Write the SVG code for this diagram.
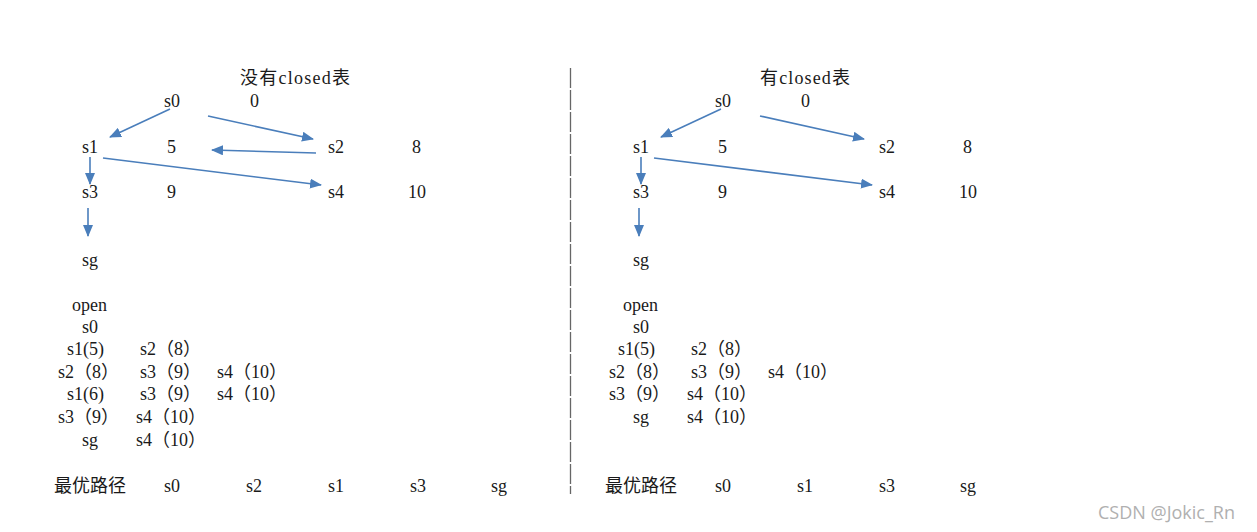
<svg xmlns="http://www.w3.org/2000/svg" width="1257" height="532" viewBox="0 0 1257 532">
<style>
text{font-family:"Liberation Serif","Noto Sans CJK SC",serif;font-size:18px;fill:#1a1a1a}
.wm{font-family:"Open Sans","Noto Sans",sans-serif;font-size:18px;fill:#b0b0b0}
.c{stroke:#4a7ebb;stroke-width:1.6;fill:none;marker-end:url(#ah)}
</style>
<defs>
<marker id="ah" viewBox="0 0 12 10" refX="11" refY="5" markerWidth="12" markerHeight="10" markerUnits="userSpaceOnUse" orient="auto"><path d="M0,0 L12,5 L0,10 z" fill="#4a7ebb"/></marker>
</defs>
<rect width="1257" height="532" fill="#fff"/>
<g id="connectors">
<line class="c" x1="170" y1="109" x2="110" y2="137"/>
<line class="c" x1="208" y1="116" x2="313" y2="139"/>
<line class="c" x1="316" y1="153" x2="212" y2="150"/>
<line class="c" x1="103" y1="158" x2="321" y2="185"/>
<line class="c" x1="90" y1="157" x2="90" y2="184"/>
<line class="c" x1="88" y1="208" x2="88" y2="236"/>
<line class="c" x1="721" y1="109" x2="661" y2="137"/>
<line class="c" x1="760" y1="116" x2="864" y2="139"/>
<line class="c" x1="654" y1="158" x2="872" y2="185"/>
<line class="c" x1="641" y1="157" x2="641" y2="184"/>
<line class="c" x1="639" y1="208" x2="639" y2="236"/>
</g>
<g id="divider"><line x1="570.5" y1="68" x2="570.5" y2="494" stroke="#666" stroke-width="1.3" stroke-dasharray="20 2"/></g>
<g id="left">
<text x="240" y="84" textLength="110" lengthAdjust="spacing">没有closed表</text>
<g id="l-s0"><text x="164" y="107">s0</text><text x="250" y="107">0</text></g>
<g id="l-s1"><text x="82" y="153">s1</text><text x="167" y="153">5</text></g>
<g id="l-s2"><text x="328" y="153">s2</text><text x="412" y="153">8</text></g>
<g id="l-s3"><text x="82" y="198">s3</text><text x="167" y="198">9</text></g>
<g id="l-s4"><text x="328" y="198">s4</text><text x="408" y="198">10</text></g>
<g id="l-sg"><text x="82" y="266">sg</text></g>
<g id="l-open">
<text x="72" y="311">open</text>
<text x="82" y="333">s0</text>
<text x="67" y="355">s1(5)</text><text x="140" y="355">s2（8）</text>
<text x="58" y="378">s2（8）</text><text x="140" y="378">s3（9）</text><text x="217" y="378">s4（10）</text>
<text x="67" y="400">s1(6)</text><text x="140" y="400">s3（9）</text><text x="217" y="400">s4（10）</text>
<text x="58" y="423">s3（9）</text><text x="136" y="423">s4（10）</text>
<text x="82" y="446">sg</text><text x="136" y="446">s4（10）</text>
</g>
<g id="l-path">
<text x="54" y="492">最优路径</text><text x="164" y="492">s0</text><text x="246" y="492">s2</text><text x="328" y="492">s1</text><text x="410" y="492">s3</text><text x="491" y="492">sg</text>
</g>
</g>
<g id="right">
<text x="760" y="84" textLength="90" lengthAdjust="spacing">有closed表</text>
<g id="r-s0"><text x="715" y="107">s0</text><text x="801" y="107">0</text></g>
<g id="r-s1"><text x="633" y="153">s1</text><text x="718" y="153">5</text></g>
<g id="r-s2"><text x="879" y="153">s2</text><text x="963" y="153">8</text></g>
<g id="r-s3"><text x="633" y="198">s3</text><text x="718" y="198">9</text></g>
<g id="r-s4"><text x="879" y="198">s4</text><text x="959" y="198">10</text></g>
<g id="r-sg"><text x="633" y="266">sg</text></g>
<g id="r-open">
<text x="623" y="311">open</text>
<text x="633" y="333">s0</text>
<text x="618" y="355">s1(5)</text><text x="691" y="355">s2（8）</text>
<text x="609" y="378">s2（8）</text><text x="691" y="378">s3（9）</text><text x="768" y="378">s4（10）</text>
<text x="609" y="400">s3（9）</text><text x="687" y="400">s4（10）</text>
<text x="633" y="423">sg</text><text x="687" y="423">s4（10）</text>
</g>
<g id="r-path">
<text x="605" y="492">最优路径</text><text x="715" y="492">s0</text><text x="797" y="492">s1</text><text x="879" y="492">s3</text><text x="960" y="492">sg</text>
</g>
</g>
<text class="wm" x="1098" y="519">CSDN @Jokic_Rn</text>
</svg>
